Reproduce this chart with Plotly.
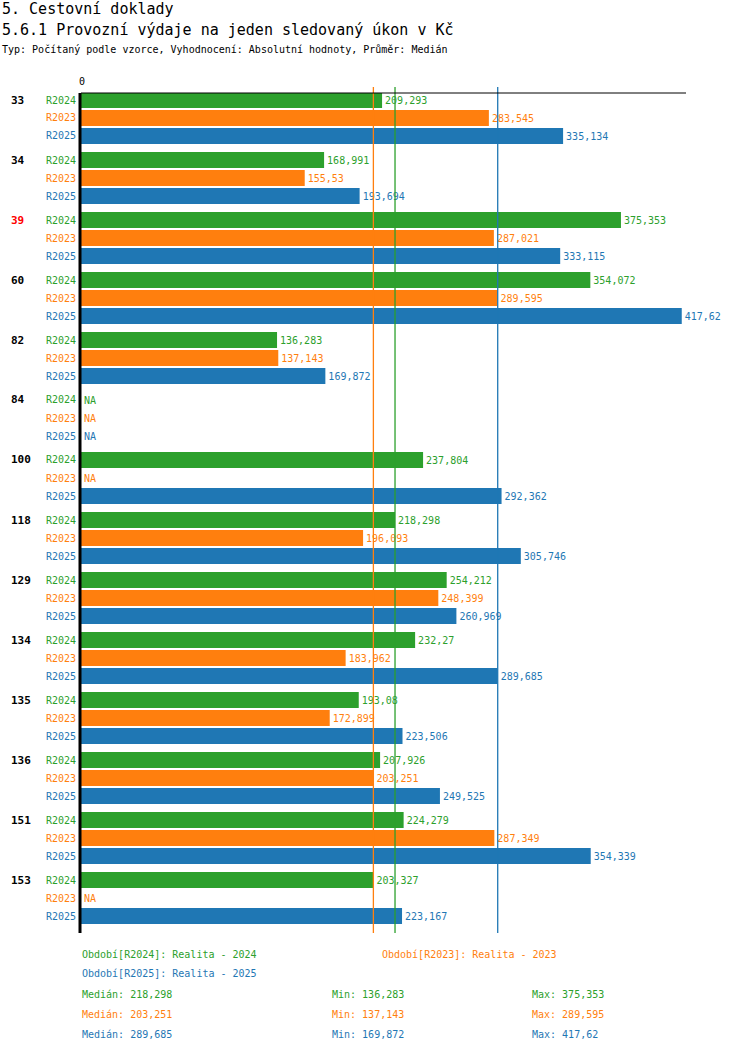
import numpy as np
import plotly.graph_objects as go

# data (None = NA)
groups = ["33", "34", "39", "60", "82", "84", "100", "118", "129", "134", "135", "136", "151", "153"]
series = ["R2024", "R2023", "R2025"]
r2024 = [209.293, 168.991, 375.353, 354.072, 136.283, None, 237.804, 218.298, 254.212, 232.27, 193.08, 207.926, 224.279, 203.327]
r2023 = [283.545, 155.53, 287.021, 289.595, 137.143, None, None, 196.093, 248.399, 183.962, 172.899, 203.251, 287.349, None]
r2025 = [335.134, 193.694, 333.115, 417.62, 169.872, None, 292.362, 305.746, 260.969, 289.685, 223.506, 249.525, 354.339, 223.167]
legend_names = ["Realita - 2024", "Realita - 2023", "Realita - 2025"]
highlight = "39"

colors = ["#2ca02c", "#ff7f0e", "#1f77b4"]
mono = "DejaVu Sans Mono"
W, H = 750, 1052
L, R, T, B = 81, 64, 93, 122
plot_h = H - T - B
plot_w = W - L - R
px_per_unit = 1.4385
xmax = plot_w / px_per_unit


def fmt(v):
    return "NA" if v is None else f"{v:g}".replace(".", ",")


def ypos(gi, si):
    return 7 + 60 * gi + 18 * si


fig = go.Figure()
all_series = [r2024, r2023, r2025]
for si, (name, vals) in enumerate(zip(series, all_series)):
    ys = [ypos(gi, si) for gi in range(len(groups))]
    xs = [0 if v is None else v for v in vals]
    fig.add_trace(go.Bar(x=xs, y=ys, orientation="h", width=16,
                         marker=dict(color=colors[si], line=dict(width=0)),
                         text=[fmt(v) for v in vals], textposition="outside",
                         textfont=dict(family=mono, size=10, color=colors[si]),
                         cliponaxis=False, showlegend=False, hoverinfo="skip"))

shapes = []
# median lines
for si, vals in enumerate(all_series):
    arr = np.array([np.nan if v is None else v for v in vals])
    med = np.nanmedian(arr)
    shapes.append(dict(type="line", xref="x", yref="paper", x0=med, x1=med,
                       y0=-3 / plot_h, y1=1 + 6 / plot_h,
                       line=dict(color=colors[si], width=1.3)))
# axes lines
shapes.append(dict(type="line", xref="paper", yref="paper", x0=0, x1=1, y0=1, y1=1,
                   line=dict(color="black", width=1)))
shapes.append(dict(type="line", xref="paper", yref="paper", x0=-1 / plot_w, x1=-1 / plot_w,
                   y0=-3 / plot_h, y1=1, line=dict(color="black", width=3)))

ann = []


def py(ypix):
    return (H - B - ypix) / plot_h


def pxx(xpix):
    return (xpix - L) / plot_w


# titles
ann.append(dict(text="5. Cestovní doklady", x=pxx(0), y=py(9), font=dict(size=15, family=mono, color="black")))
ann.append(dict(text="5.6.1 Provozní výdaje na jeden sledovaný úkon v Kč", x=pxx(0), y=py(30),
                font=dict(size=15, family=mono, color="black")))
ann.append(dict(text="Typ: Počítaný podle vzorce, Vyhodnocení: Absolutní hodnoty, Průměr: Medián",
                x=pxx(0), y=py(50), font=dict(size=10, family=mono, color="black")))
ann.append(dict(text="0", x=pxx(77), y=py(81), font=dict(size=10, family=mono, color="black")))

# group and series labels
for gi, g in enumerate(groups):
    ann.append(dict(text=f"<b>{g}</b>", x=pxx(9), y=py(T + ypos(gi, 0)),
                    font=dict(size=11, family=mono, color="red" if g == highlight else "black")))
    for si, s in enumerate(series):
        ann.append(dict(text=s, x=pxx(78), y=py(T + ypos(gi, si)), xanchor="right",
                        font=dict(size=10, family=mono, color=colors[si])))

# footer legend
legend_pos = [(80, 954), (380, 954), (80, 974)]
for si, (s, n) in enumerate(zip(series, legend_names)):
    ann.append(dict(text=f"Období[{s}]: {n}", x=pxx(legend_pos[si][0]), y=py(legend_pos[si][1]),
                    font=dict(size=10, family=mono, color=colors[si])))

# footer stats
for si, vals in enumerate(all_series):
    arr = np.array([v for v in vals if v is not None])
    yy = py(994 + 20 * si)
    ann.append(dict(text=f"Medián: {fmt(float(np.median(arr)))}", x=pxx(80), y=yy,
                    font=dict(size=10, family=mono, color=colors[si])))
    ann.append(dict(text=f"Min: {fmt(float(arr.min()))}", x=pxx(330), y=yy,
                    font=dict(size=10, family=mono, color=colors[si])))
    ann.append(dict(text=f"Max: {fmt(float(arr.max()))}", x=pxx(530), y=yy,
                    font=dict(size=10, family=mono, color=colors[si])))

for a in ann:
    a.setdefault("xanchor", "left")
    a.update(xref="paper", yref="paper", yanchor="middle", showarrow=False)

fig.update_layout(
    width=W, height=H,
    margin=dict(l=L, r=R, t=T, b=B),
    paper_bgcolor="white", plot_bgcolor="white",
    xaxis=dict(range=[0, xmax], visible=False, fixedrange=True),
    yaxis=dict(range=[plot_h, 0], visible=False, fixedrange=True),
    barmode="overlay",
    shapes=shapes,
    annotations=ann,
    showlegend=False,
)

fig.write_html("out.html", config={"displayModeBar": False},
               post_script="document.body.style.margin='0';")
